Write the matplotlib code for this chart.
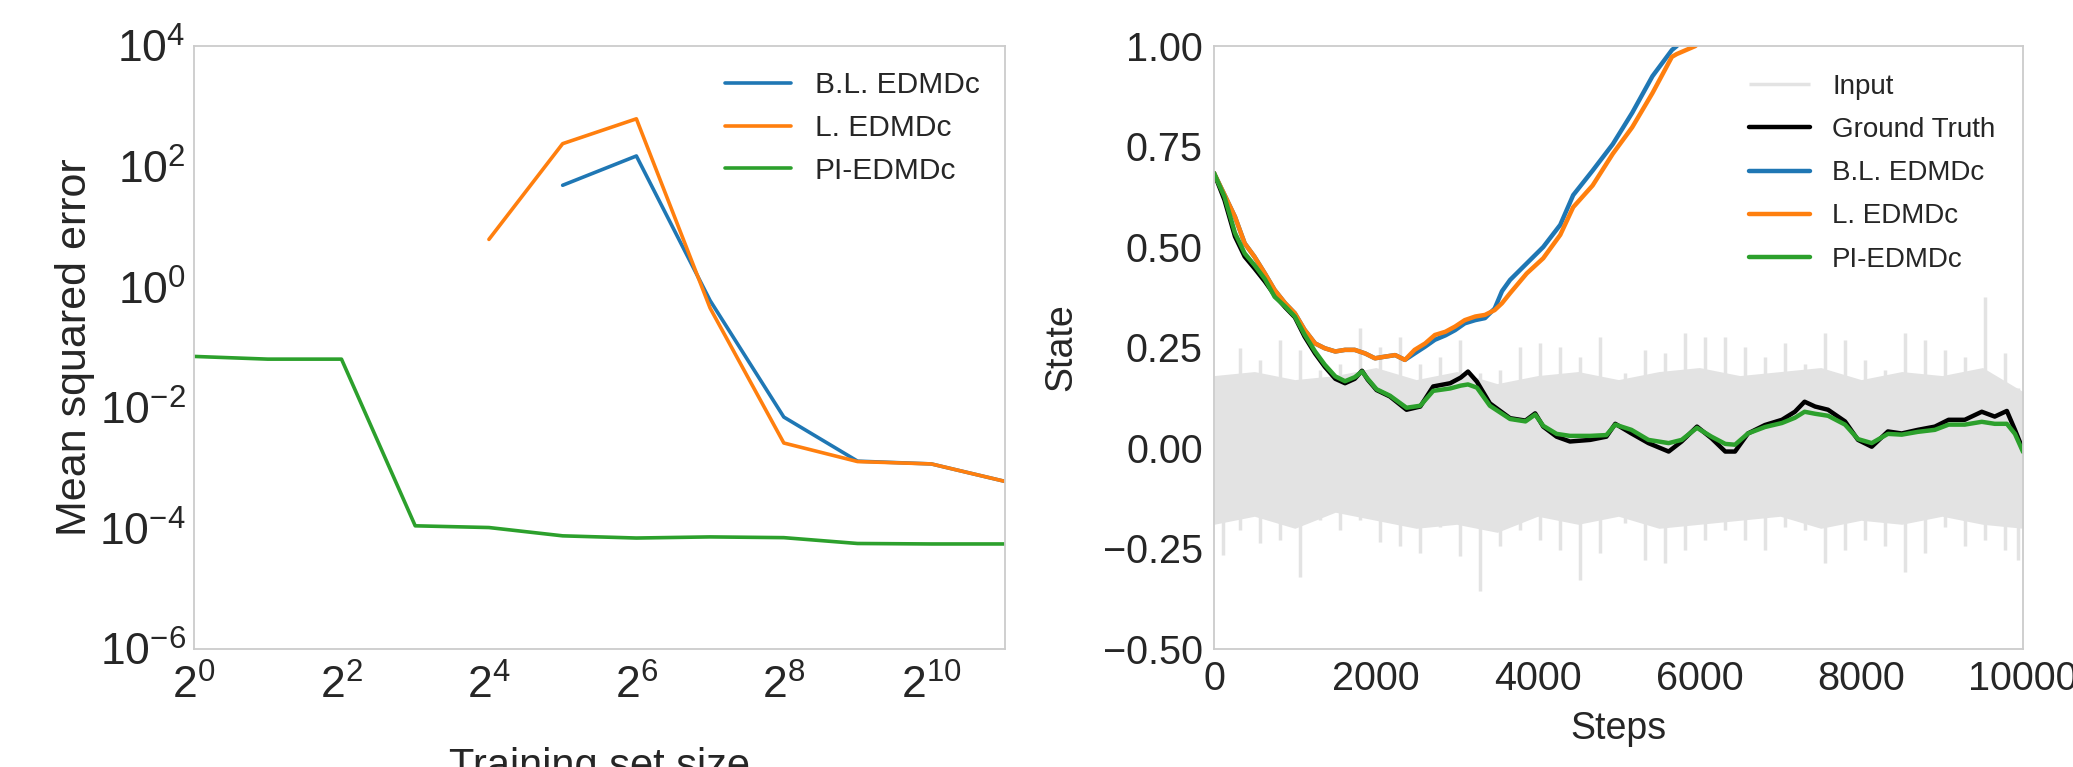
import matplotlib
matplotlib.use('Agg')
import matplotlib.pyplot as plt
from matplotlib.ticker import LogFormatterSciNotation, NullLocator

# ---- left panel: error vs training set size ----
train_sizes = [1, 2, 4, 8, 16, 32, 64, 128, 256, 512, 1024, 2048]
mse_pi = [0.071, 0.064, 0.064, 1.1e-4, 1.03e-4, 7.5e-5, 6.9e-5, 7.2e-5, 7.0e-5, 5.6e-5, 5.5e-5, 5.5e-5]
l_sizes = [16, 32, 64, 128, 256, 512, 1024, 2048]
mse_l = [6.2, 240, 620, 0.45, 2.6e-3, 1.28e-3, 1.17e-3, 6.0e-4]
bl_sizes = [32, 64, 128, 256, 512, 1024, 2048]
mse_bl = [49, 150, 0.6, 7.0e-3, 1.3e-3, 1.17e-3, 6.0e-4]

# ---- right panel: state trajectories ----
gt_steps = [0, 130, 260, 380, 500, 630, 750, 880, 1000, 1120, 1250, 1370, 1500, 1620, 1740,
            1830, 1900, 2010, 2175, 2380, 2550, 2710, 2920, 3050, 3140, 3250, 3410, 3660,
            3850, 3970, 4070, 4235, 4400, 4650, 4850, 4960, 5160, 5370, 5620, 5780, 5970,
            6150, 6320, 6440, 6600, 6810, 7020, 7180, 7300, 7430, 7590, 7800, 7960, 8130,
            8330, 8500, 8700, 8910, 9080, 9280, 9490, 9650, 9800, 9900, 10000]
ground_truth = [0.684, 0.617, 0.526, 0.476, 0.447, 0.414, 0.38, 0.35, 0.325, 0.277, 0.235,
                0.202, 0.172, 0.161, 0.172, 0.192, 0.17, 0.144, 0.128, 0.095, 0.103, 0.153,
                0.161, 0.175, 0.19, 0.165, 0.111, 0.074, 0.068, 0.086, 0.053, 0.028, 0.016,
                0.02, 0.028, 0.06, 0.036, 0.012, -0.009, 0.016, 0.053, 0.024, -0.009, -0.009,
                0.036, 0.057, 0.07, 0.09, 0.115, 0.103, 0.095, 0.066, 0.02, 0.003, 0.041,
                0.036, 0.045, 0.053, 0.07, 0.07, 0.09, 0.078, 0.092, 0.045, -0.005]
pi_edmdc = [0.684, 0.625, 0.535, 0.484, 0.455, 0.42, 0.376, 0.352, 0.327, 0.282, 0.24,
            0.207, 0.178, 0.166, 0.176, 0.19, 0.172, 0.146, 0.13, 0.1, 0.105, 0.142,
            0.148, 0.155, 0.158, 0.15, 0.105, 0.072, 0.066, 0.083, 0.055, 0.035, 0.03,
            0.03, 0.032, 0.058, 0.045, 0.02, 0.012, 0.02, 0.05, 0.028, 0.01, 0.008,
            0.036, 0.052, 0.062, 0.075, 0.09, 0.085, 0.08, 0.058, 0.022, 0.012, 0.035,
            0.033, 0.04, 0.045, 0.058, 0.058, 0.065, 0.06, 0.06, 0.035, -0.01]

pred_steps = [0, 130, 260, 380, 500, 630, 750, 880, 1000, 1120, 1250, 1370, 1500, 1620,
              1740, 1870, 1990, 2110, 2240, 2360, 2480, 2610, 2730, 2860, 2980, 3100, 3230,
              3350, 3470, 3560, 3660, 3865, 4070, 4280, 4440, 4680, 4930, 5170, 5420, 5660,
              5720, 5950, 6200]
l_edmdc = [0.684, 0.63, 0.575, 0.509, 0.476, 0.434, 0.393, 0.36, 0.335, 0.294, 0.26,
           0.248, 0.24, 0.244, 0.244, 0.235, 0.223, 0.227, 0.231, 0.219, 0.244, 0.26,
           0.281, 0.289, 0.302, 0.318, 0.327, 0.331, 0.343, 0.36, 0.385, 0.434, 0.472,
           0.53, 0.599, 0.653, 0.732, 0.798, 0.883, 0.973, 0.98, 1.0, 1.06]
bl_edmdc = [0.684, 0.63, 0.575, 0.509, 0.476, 0.434, 0.393, 0.36, 0.335, 0.294, 0.26,
            0.248, 0.24, 0.244, 0.244, 0.235, 0.223, 0.227, 0.231, 0.219, 0.235, 0.252,
            0.269, 0.28, 0.293, 0.31, 0.318, 0.323, 0.347, 0.39, 0.418, 0.459, 0.5,
            0.555, 0.629, 0.69, 0.756, 0.834, 0.925, 0.99, 1.0, 1.06, 1.12]

# input signal: spike extents per chunk and the dense core band
input_steps = [115, 321, 569, 816, 1063, 1310, 1557, 1805, 2052, 2299, 2546, 2793, 3041,
               3288, 3535, 3782, 4029, 4277, 4524, 4771, 5081, 5328, 5575, 5822, 6069,
               6317, 6564, 6811, 7058, 7305, 7553, 7800, 8047, 8294, 8541, 8789, 9036,
               9283, 9530, 9777, 9942]
input_hi = [0.177, 0.248, 0.219, 0.269, 0.244, 0.194, 0.21, 0.298, 0.252, 0.277, 0.21,
            0.227, 0.269, 0.186, 0.194, 0.252, 0.26, 0.252, 0.227, 0.277, 0.186, 0.244,
            0.235, 0.285, 0.277, 0.277, 0.252, 0.227, 0.26, 0.21, 0.285, 0.269, 0.219,
            0.194, 0.285, 0.269, 0.244, 0.227, 0.376, 0.235, 0.15]
input_lo = [-0.266, -0.204, -0.237, -0.229, -0.32, -0.18, -0.204, -0.18, -0.233, -0.245,
            -0.262, -0.196, -0.27, -0.357, -0.245, -0.204, -0.229, -0.254, -0.328, -0.262,
            -0.187, -0.279, -0.287, -0.254, -0.229, -0.204, -0.229, -0.254, -0.196, -0.204,
            -0.287, -0.254, -0.229, -0.245, -0.308, -0.262, -0.196, -0.245, -0.229, -0.254,
            -0.279]
core_steps = [0, 500, 1000, 1500, 2000, 2500, 3000, 3500, 4000, 4500, 5000, 5500, 6000,
              6500, 7000, 7500, 8000, 8500, 9000, 9500, 10000]
core_hi = [0.18, 0.19, 0.17, 0.18, 0.2, 0.17, 0.19, 0.16, 0.18, 0.19, 0.17, 0.19, 0.2,
           0.18, 0.19, 0.2, 0.17, 0.19, 0.18, 0.2, 0.14]
core_lo = [-0.19, -0.17, -0.2, -0.16, -0.18, -0.2, -0.19, -0.21, -0.17, -0.19, -0.17, -0.2,
           -0.19, -0.18, -0.17, -0.2, -0.18, -0.19, -0.17, -0.19, -0.2]

BLUE, ORANGE, GREEN = '#1f77b4', '#ff7f0e', '#2ca02c'
GRAY = '#e3e3e3'

plt.style.use('seaborn-v0_8-white')
plt.rcParams['font.family'] = ['Liberation Sans', 'DejaVu Sans']
plt.rcParams['axes.edgecolor'] = '#cccccc'
plt.rcParams['axes.linewidth'] = 1.3
plt.rcParams['text.color'] = '#262626'
plt.rcParams['axes.labelcolor'] = '#262626'
plt.rcParams['xtick.color'] = '#262626'
plt.rcParams['ytick.color'] = '#262626'

fig = plt.figure(figsize=(20.73, 7.67), dpi=100)
ax1 = fig.add_axes([0.0936, 0.154, 0.3912, 0.786])
ax2 = fig.add_axes([0.5856, 0.154, 0.3903, 0.786])

legend_kw = dict(loc='upper right', bbox_to_anchor=(1.0, 1.0), frameon=False,
                 handlelength=2.2, handletextpad=0.8, borderpad=0.4)

# left
ax1.plot(bl_sizes, mse_bl, color=BLUE, lw=2.6, label='B.L. EDMDc')
ax1.plot(l_sizes, mse_l, color=ORANGE, lw=2.6, label='L. EDMDc')
ax1.plot(train_sizes, mse_pi, color=GREEN, lw=2.6, label='PI-EDMDc')
ax1.set_xscale('log', base=2)
ax1.set_yscale('log')
ax1.set_xlim(1, 2048)
ax1.set_ylim(1e-6, 1e4)
ax1.set_xticks([2 ** k for k in range(0, 11, 2)])
ax1.set_yticks([10.0 ** k for k in range(-6, 5, 2)])
ax1.xaxis.set_major_formatter(LogFormatterSciNotation(base=2))
ax1.xaxis.set_minor_locator(NullLocator())
ax1.yaxis.set_minor_locator(NullLocator())
ax1.tick_params(labelsize=32)
ax1.tick_params(axis='x', pad=11)
ax1.tick_params(axis='y', pad=6)
ax1.set_xlabel('Training set size', fontsize=30)
ax1.set_ylabel('Mean squared error', fontsize=31)
ax1.xaxis.set_label_coords(0.5, -0.163)
ax1.yaxis.set_label_coords(-0.122, 0.5)
ax1.legend(fontsize=21.5, labelspacing=0.49, borderaxespad=0.45, **legend_kw)

# right
ax2.vlines(input_steps, input_lo, input_hi, color=GRAY, lw=2.5, label='Input')
ax2.fill_between(core_steps, core_lo, core_hi, color=GRAY, lw=0)
ax2.plot(gt_steps, ground_truth, color='black', lw=3.2, label='Ground Truth')
ax2.plot(pred_steps, bl_edmdc, color=BLUE, lw=3.2, label='B.L. EDMDc')
ax2.plot(pred_steps, l_edmdc, color=ORANGE, lw=3.2, label='L. EDMDc')
ax2.plot(gt_steps, pi_edmdc, color=GREEN, lw=3.2, label='PI-EDMDc')
ax2.set_xlim(0, 10000)
ax2.set_ylim(-0.5, 1.0)
ax2.set_xticks([0, 2000, 4000, 6000, 8000, 10000])
ax2.set_yticks([-0.5, -0.25, 0, 0.25, 0.5, 0.75, 1.0])
ax2.tick_params(labelsize=28.5, pad=8)
ax2.set_xlabel('Steps', fontsize=27)
ax2.set_ylabel('State', fontsize=27)
ax2.xaxis.set_label_coords(0.5, -0.103)
ax2.yaxis.set_label_coords(-0.166, 0.5)
ax2.legend(fontsize=20, labelspacing=0.62, borderaxespad=0.6, **legend_kw)

fig.savefig('out.png', dpi=100)
